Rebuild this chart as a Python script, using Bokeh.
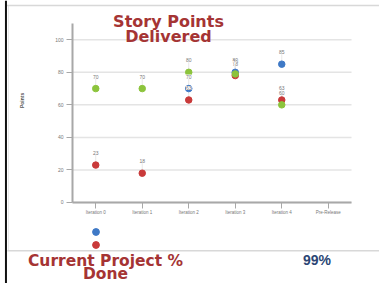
from bokeh.plotting import figure
from bokeh.models import (ColumnDataSource, LabelSet, Label, Range1d,
                          FixedTicker, Legend, LegendItem, BoxAnnotation)
from bokeh.core.properties import value
from bokeh.embed import file_html
from bokeh.resources import INLINE

# ---- data ----
categories = ["Iteration 0", "Iteration 1", "Iteration 2", "Iteration 3", "Iteration 4", "Pre-Release"]
blue_values = [None, None, 70, 80, 85, None]
red_values = [23, 18, 63, 78, 63, None]
green_values = [70, 70, 80, 79, 60, None]
y_ticks = [0, 20, 40, 60, 80, 100]
y_max = 110

BLUE = "#3f79c6"
RED = "#c93a3a"
GREEN = "#8cc43c"
TITLE_RED = "#a53434"
NAVY = "#2b4674"

positions = list(range(len(categories)))
x_lo, x_hi = -0.5, len(categories) - 0.5

def make_source(vals):
    xs = [i for i, v in zip(positions, vals) if v is not None]
    ys = [v for v in vals if v is not None]
    return ColumnDataSource(dict(x=xs, val=ys, top=[v + 7 for v in ys],
                                 txt=[str(v) for v in ys]))

p = figure(width=379, height=283, x_range=Range1d(-2.048, 6.102),
           y_range=Range1d(-49.78, 124.13), output_backend="svg", toolbar_location=None,
           min_border=0)
p.outline_line_color = None
p.background_fill_color = "white"
p.border_fill_color = "white"
p.xgrid.visible = False
p.ygrid.visible = False

# axes drawn at the data origin / left edge of the category span
p.xaxis.fixed_location = 0
p.yaxis.fixed_location = x_lo
p.xaxis.bounds = (x_lo, x_hi)
p.yaxis.bounds = (0, y_max)
p.xaxis.ticker = FixedTicker(ticks=positions)
p.xaxis.major_label_overrides = {i: c for i, c in zip(positions, categories)}
p.yaxis.ticker = FixedTicker(ticks=y_ticks)
for ax in (p.xaxis[0], p.yaxis[0]):
    ax.axis_line_color = "#a8a8a8"
    ax.axis_line_width = 2
    ax.major_tick_line_color = "#a8a8a8"
    ax.major_tick_out = 6
    ax.major_tick_in = 0
    ax.minor_tick_line_color = None
    ax.major_label_text_color = "#777777"
    ax.major_label_text_font = "Liberation Sans"
p.yaxis.major_label_text_font_size = "5px"
p.yaxis.major_label_standoff = 3
p.xaxis.major_label_text_font_size = "4.5px"
p.xaxis.major_label_standoff = 2

# horizontal grid lines over the category span
p.segment(x0=[x_lo] * len(y_ticks), x1=[x_hi] * len(y_ticks), y0=y_ticks, y1=y_ticks,
          line_color="#e4e4e4", line_width=1.5, level="underlay")

srcs = {}
for name, vals, col in (("blue", blue_values, BLUE), ("red", red_values, RED), ("green", green_values, GREEN)):
    src = make_source(vals)
    p.segment(x0="x", y0="val", x1="x", y1="top", source=src, line_color="#e8e8e8", line_width=1)
    srcs[name] = (src, col)

scat = {}
for name in ("blue", "red", "green"):
    src, col = srcs[name]
    scat[name] = p.scatter(x="x", y="val", source=src, size=6.5, fill_color=col, line_color=col)

for name in ("blue", "red", "green"):
    src, col = srcs[name]
    p.add_layout(LabelSet(x="x", y="val", text="txt", source=src, y_offset=12,
                          text_align="center", text_baseline="middle",
                          text_font_size="5px", text_color="#777777", text_font=value("Liberation Sans"),
                          background_fill_color="white"))

# y-axis title
p.add_layout(Label(x=-1.575, y=62.7, text="Points", angle=1.5708, text_align="center",
                   text_baseline="middle", text_font_size="5px", text_font_style="bold",
                   text_color="#555555", text_font="Liberation Sans"))

# chart title
for t, yy in (("Story Points", 111.2), ("Delivered", 102.0)):
    p.add_layout(Label(x=1.565, y=yy, text=t, text_align="center", text_baseline="alphabetic",
                       text_font="DejaVu Sans", text_font_style="bold",
                       text_font_size="16px", text_color=TITLE_RED))

# bottom panel texts
for t, yy in (("Current Project %", -36.0), ("Done", -44.0)):
    p.add_layout(Label(x=0.21, y=yy, text=t, text_align="center", text_baseline="alphabetic",
                       text_font="DejaVu Sans", text_font_style="bold",
                       text_font_size="15.5px", text_color=TITLE_RED))

p.add_layout(Label(x=4.758, y=-35.6, text="99%", text_align="center", text_baseline="alphabetic",
                   text_font="Liberation Sans", text_font_style="bold",
                   text_font_size="14px", text_color=NAVY))

# panel borders
p.add_layout(BoxAnnotation(top=-29.2, bottom=-30.1, left=-1.9, fill_color="#d8d8d8", fill_alpha=1,
                           line_color=None))
p.add_layout(BoxAnnotation(top=121.5, bottom=120.6, left=-1.91, fill_color="#d8d8d8", fill_alpha=1,
                           line_color=None))
p.add_layout(BoxAnnotation(left=-1.952, right=-1.909, fill_color="#111111", fill_alpha=1,
                           line_color=None))
p.add_layout(BoxAnnotation(left=-1.887, right=-1.872, top=121.0, bottom=-29.6, fill_color="#dddddd",
                           fill_alpha=1, line_color=None))

# legend markers (one legend per series so their spacing can be set exactly)
for name, loc in (("blue", (86.5, 43.5)), ("red", (86.5, 30.5))):
    p.add_layout(Legend(items=[LegendItem(label=value(" "), renderers=[scat[name]])],
                        location=loc, orientation="vertical", glyph_width=17, glyph_height=17,
                        spacing=0, padding=0, margin=0, label_width=0, label_height=0,
                        label_standoff=0, label_text_font_size="1px", border_line_color=None,
                        background_fill_alpha=0))

open("out.html", "w").write(file_html(p, INLINE))
